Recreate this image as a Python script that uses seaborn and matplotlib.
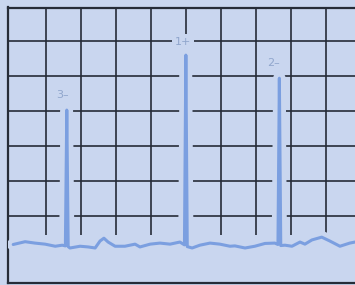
import numpy as np
import pandas as pd
import matplotlib
matplotlib.use("Agg")
import matplotlib.pyplot as plt
import matplotlib.patheffects as pe
import seaborn as sns

# trace, in grid units (x: divisions, y: divisions)
trace_x = [0.07, 0.41, 0.69, 0.98, 1.27, 1.47, 1.56, 1.60, 1.64, 1.69, 1.98, 2.21, 2.41,
           2.55, 2.66, 2.78, 2.98, 3.26, 3.55, 3.69, 3.98, 4.26, 4.55, 4.83, 4.96, 5.00,
           5.04, 5.18, 5.40, 5.69, 5.97, 6.26, 6.40, 6.69, 6.97, 7.26, 7.54, 7.63, 7.67,
           7.71, 7.83, 8.03, 8.26, 8.40, 8.60, 8.88, 9.11, 9.40, 9.68, 9.83]
trace_y = [0.18, 0.26, 0.22, 0.19, 0.13, 0.16, 0.14, 4.02, 0.12, 0.08, 0.13, 0.11, 0.08,
           0.28, 0.36, 0.25, 0.13, 0.13, 0.19, 0.11, 0.19, 0.22, 0.19, 0.25, 0.17, 5.59,
           0.12, 0.08, 0.16, 0.22, 0.19, 0.13, 0.14, 0.08, 0.13, 0.21, 0.22, 0.18, 4.93,
           0.15, 0.16, 0.13, 0.25, 0.19, 0.31, 0.39, 0.28, 0.13, 0.22, 0.25]

peak_labels = ["3\u2013", "1+", "2\u2013"]
label_x = [1.47, 4.92, 7.49]
label_y = [4.45, 5.96, 5.37]

bg = "#c9d6ef"
ink = "#262c38"
blue = "#7b9fe0"

sns.set_theme(style="white", rc={"figure.facecolor": bg, "axes.facecolor": bg})
plt.rcParams["font.family"] = ["DejaVu Sans"]

fig = plt.figure(figsize=(3.55, 2.85), dpi=100)
ax = fig.add_axes([8.3 / 355, 2 / 285, (355 - 8.3) / 355, (283 - 7.5) / 285])

# screen graticule
ax.hlines(range(1, 7), -0.1, 10, color=ink, linewidth=1.2, zorder=1)
ax.vlines(range(1, 10), 0.45, 7, color=ink, linewidth=1.2, zorder=1)

df = pd.DataFrame({"x": trace_x, "y": trace_y})
sns.lineplot(data=df, x="x", y="y", ax=ax, color=blue, linewidth=2.2,
             estimator=None, sort=False, zorder=3)
ax.lines[-1].set_path_effects([pe.Stroke(linewidth=9, foreground=bg), pe.Normal()])
ax.lines[-1].set_solid_capstyle("round")

for t, tx, ty in zip(peak_labels, label_x, label_y):
    ax.text(tx, ty, t, color="#90a6cc", fontsize=8, ha="center", va="center", zorder=4,
            bbox=dict(boxstyle="square,pad=0.25", fc=bg, ec="none"))

ax.set_xlim(-0.07, 9.83)
ax.set_ylim(-0.92, 6.95)
ax.set_xticks([])
ax.set_yticks([])
ax.set_xlabel("")
ax.set_ylabel("")
for side in ["left", "top", "bottom"]:
    ax.spines[side].set_color(ink)
    ax.spines[side].set_linewidth(1.6)
ax.spines["right"].set_visible(False)

fig.savefig("out.png", dpi=100, facecolor=bg)
